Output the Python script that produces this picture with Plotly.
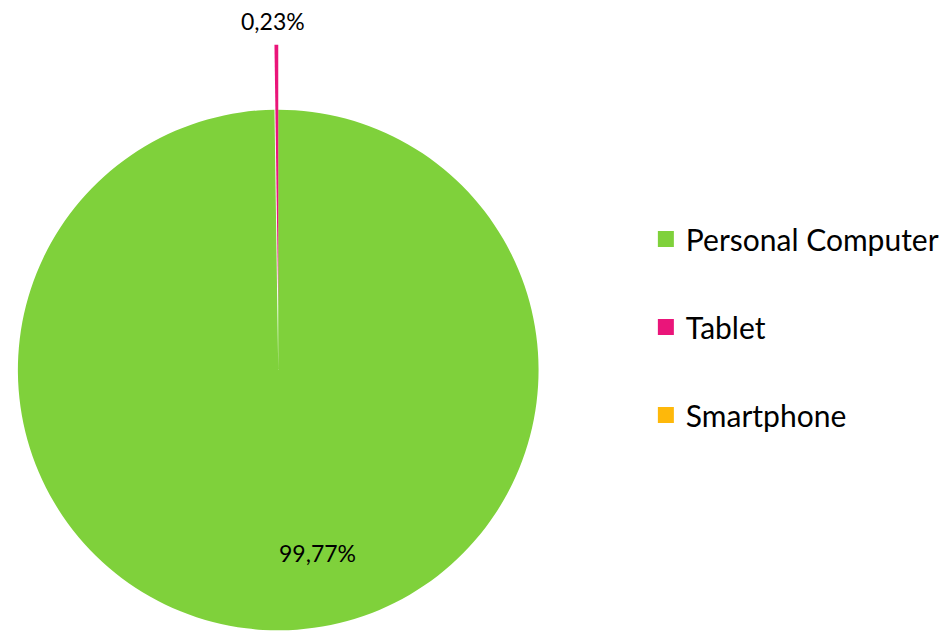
import plotly.graph_objects as go

# ---- data ----
categories = ["Personal Computer", "Tablet", "Smartphone"]
shares = [99.77, 0.23, 0.0]
share_labels = ["99,77%", "0,23%", ""]
colors = ["#7FD13B", "#EA157A", "#FEB80A"]
exploded = [False, True, False]

FONT = "Lato"
W, H = 944, 633


def dom(left, top, size):
    return dict(x=[left / W, (left + size) / W], y=[1 - (top + size) / H, 1 - top / H])


fig = go.Figure()

# main pie: non-exploded slices (exploded slice leaves a gap)
main_colors = [("rgba(255,255,255,0)" if e else c) for c, e in zip(colors, exploded)]
fig.add_trace(go.Pie(
    labels=categories, values=shares, sort=False, direction="clockwise", rotation=0,
    marker=dict(colors=main_colors, line=dict(width=0)),
    textinfo="none", domain=dom(18, 108, 524), showlegend=False,
    hoverinfo="label+percent",
))

# exploded slice, drawn shifted outward
exp_colors = [(c if e else "rgba(255,255,255,0)") for c, e in zip(colors, exploded)]
fig.add_trace(go.Pie(
    labels=categories, values=shares, sort=False, direction="clockwise", rotation=0,
    marker=dict(colors=exp_colors, line=dict(width=0)),
    textinfo="none", domain=dom(18, 43, 524), showlegend=False,
    hoverinfo="label+percent",
))

# legend entries
for name, col in zip(categories, colors):
    fig.add_trace(go.Scatter(
        x=[None], y=[None], mode="markers", name=name, legendgroup=name,
        marker=dict(symbol="square", size=16, color=col), hoverinfo="skip",
    ))

# data labels
label_pos = {"99,77%": (320, 553), "0,23%": (275, 21)}
for txt in share_labels:
    if not txt:
        continue
    px, py = label_pos[txt]
    fig.add_annotation(x=px / W, y=1 - py / H, xref="paper", yref="paper",
                       text=txt, showarrow=False, xanchor="center", yanchor="middle",
                       font=dict(family=FONT, size=23, color="black"))

fig.update_layout(
    width=W, height=H, margin=dict(l=0, r=0, t=0, b=0),
    paper_bgcolor="white", plot_bgcolor="white",
    xaxis=dict(visible=False), yaxis=dict(visible=False),
    font=dict(family=FONT, color="black"),
    legend=dict(x=650 / W, y=1 - 327 / H, xanchor="left", yanchor="middle",
                font=dict(family=FONT, size=30, color="black"),
                tracegroupgap=46, bgcolor="rgba(0,0,0,0)"),
)

fig.write_html("out.html", config={"displayModeBar": False},
               post_script="document.body.style.margin='0';")
